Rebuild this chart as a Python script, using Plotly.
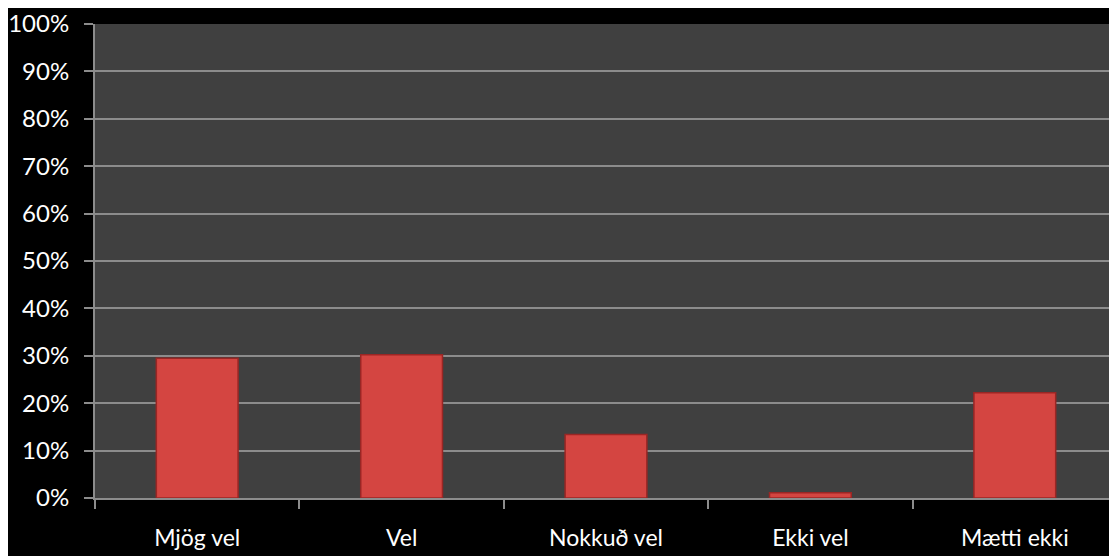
import plotly.graph_objects as go

categories = ['Mjög vel', 'Vel', 'Nokkuð vel', 'Ekki vel', 'Mætti ekki']
values = [29.5, 30.2, 13.4, 1.1, 22.2]
y_ticks = list(range(0, 101, 10))
y_labels = [f'{v}%' for v in y_ticks]

fig = go.Figure(
    go.Bar(
        x=categories,
        y=values,
        width=0.4,
        marker=dict(color='#d44541', line=dict(color='#9a2624', width=1.5)),
    )
)

# the page body adds an 8px margin, so the figure is sized to fit
fig.update_layout(
    width=1109,
    height=548,
    margin=dict(l=87, r=0, t=14, b=58),
    paper_bgcolor='black',
    plot_bgcolor='#404040',
    font=dict(family='Lato', size=23, color='white'),
    showlegend=False,
)

fig.update_xaxes(
    showgrid=False,
    tickson='boundaries',
    ticks='outside',
    ticklen=9,
    tickwidth=1.5,
    tickcolor='#8c8c8c',
    showline=True,
    linecolor='#8c8c8c',
    linewidth=2,
    ticklabelstandoff=18,
)

fig.update_yaxes(
    range=[0, 100],
    tickmode='array',
    tickvals=y_ticks,
    ticktext=y_labels,
    tickfont=dict(size=24),
    ticklabeloverflow='allow',
    showgrid=True,
    gridcolor='#8c8c8c',
    gridwidth=2,
    ticks='outside',
    ticklen=9,
    tickwidth=1.5,
    tickcolor='#8c8c8c',
    showline=True,
    linecolor='#8c8c8c',
    linewidth=2,
    zeroline=False,
    ticklabelstandoff=10,
)

fig.write_html("out.html")
